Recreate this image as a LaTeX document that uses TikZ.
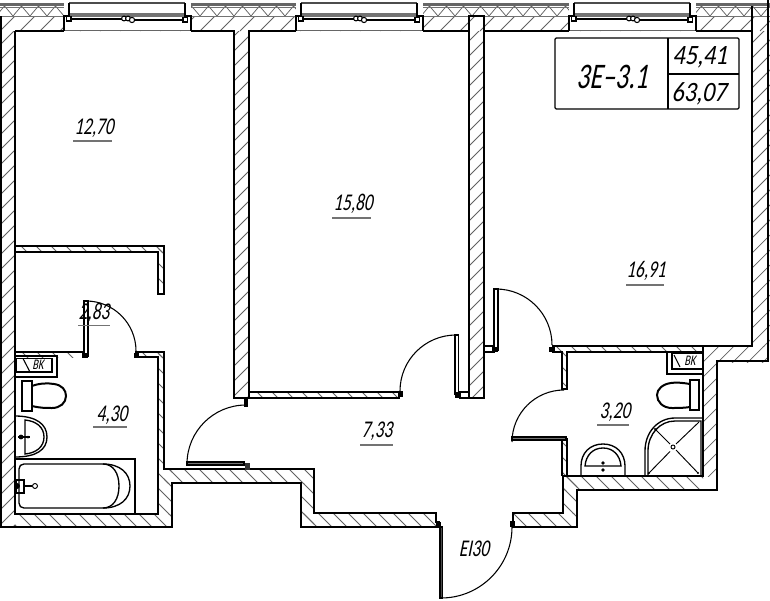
\documentclass[tikz,border=0pt]{standalone}
\usepackage{fontspec}
\newfontfamily\gost[FakeStretch=.72,FakeSlant=.2]{Carlito}
\newfontfamily\gostw[FakeStretch=.86,FakeSlant=.2]{Carlito}
\newcommand{\hatchR}[1]{\begin{scope}\clip #1;\foreach \i in {-600,-585,...,780}{\draw[hatchline] (\i,600)--(\i+600,0);}\end{scope}}
\newcommand{\hatchL}[1]{\begin{scope}\clip #1;\foreach \i in {-600,-585,...,780}{\draw[hatchline] (\i,0)--(\i+600,600);}\end{scope}}
\tikzset{
 hatchline/.style={draw=black!62,line width=.55pt},
 wall/.style={draw=black,line width=1.5pt,line cap=butt,line join=miter},
 leaf/.style={draw=black,line width=1.3pt},
 swing/.style={draw=black,line width=.8pt},
 fixture/.style={draw=black,line width=1pt},
 fixtureb/.style={draw=black,line width=1.5pt},
 ul/.style={draw=black!55,line width=.9pt},
 lab/.style={inner sep=0pt,font=\gost\fontsize{18}{18}\selectfont},
 labbig/.style={inner sep=0pt,font=\gostw\fontsize{21}{21}\selectfont},
 labhuge/.style={inner sep=0pt,font=\gost\fontsize{27}{27}\selectfont},
 labvk/.style={inner sep=0pt,font=\gost\fontsize{11}{11}\selectfont},
 table/.style={draw=black,line width=.9pt,rounded corners=1pt},
 win/.pic={
  \fill[white] (0,0) rectangle (127,31);
  \fill[black!55] (5,13) rectangle (121,17);
  \draw[black!70,line width=.8pt] (5,3)--(121,3);
  \draw[black!60,line width=.6pt] (0,30.5)--(127,30.5);
  \draw[wall] (0,30.5)--(0,16)--(5,16)--(5,3);
  \draw[wall] (127,30.5)--(127,16)--(121,16)--(121,3);
  \draw[black,line width=.9pt] (5,19)--(60,19) (68,20)--(121,20);
  \draw[black,line width=.8pt,fill=white] (2.5,16.5) rectangle (7,21);
  \draw[black,line width=.8pt,fill=white] (119,17.5) rectangle (123.5,22);
  \draw[black,line width=.8pt,fill=white] (60,18.5) circle (2.4);
  \draw[black,line width=.8pt,fill=white] (64,18.5) circle (2.4);
  \draw[black,line width=.8pt,fill=white] (68,20) circle (2.6);
 }
}
\begin{document}
\begin{tikzpicture}[x=.75pt,y=-.75pt]
\useasboundingbox (0,0) rectangle (770,600);
\fill[white] (0,0) rectangle (770,600);
% ---- top band
\begin{scope}\clip (0,16) rectangle (770,31);\foreach \i in {-40,-20,...,780}{\draw[hatchline] (\i,31)--(\i+25,6);}\end{scope}
\begin{scope}\clip (0,6) rectangle (770,16);
\draw[black!62,line width=.55pt] (-4,16) \foreach \i in {0,1,...,46}{--(\i*17+4.5,6)--(\i*17+13,16)};
\end{scope}
\draw[black!55,line width=.7pt] (0,16.2)--(770,16.2);
\draw[black!60,line width=1.8pt] (0,4.5)--(770,4.5);
\draw[black!55,line width=.6pt] (0,7)--(770,7);
\pic at (64,0) {win};
\pic at (296,0) {win};
\pic at (569,0) {win};
% ---- wall hatching
\hatchR{(0,31) rectangle (15,527)}
\hatchR{(234,31) rectangle (248,398)}
\hatchR{(469,31) rectangle (484,398)}
\hatchR{(752,31) rectangle (770,346)}
\hatchR{(703,346) rectangle (717,476)}
\hatchR{(717,346) rectangle (767,362)}
\hatchL{(15,514) rectangle (172,527)}
\hatchL{(158,470) rectangle (172,514)}
\hatchL{(164,469) rectangle (314,483)}
\hatchL{(301,483) rectangle (314,527)}
\hatchL{(301,513) rectangle (437,527)}
\hatchL{(513,513) rectangle (577,527)}
\hatchL{(563,476) rectangle (577,513)}
\hatchL{(563,476) rectangle (703,490)}
\hatchL{(15,245) rectangle (164,252)}
\hatchL{(158,245) rectangle (164,294)}
\hatchL{(158,352) rectangle (164,470)}
\hatchL{(15,352) rectangle (84,357)}
\hatchL{(135,352) rectangle (164,357)}
\hatchL{(249,392) rectangle (400,398)}
\hatchL{(562,352) rectangle (567,389)}
\hatchL{(562,438) rectangle (567,476)}
\hatchL{(552,347) rectangle (703,352)}
% ---- outer and main wall lines
\draw[wall] (1,16)--(1,527)--(172,527)--(172,483)--(301,483)--(301,527)--(440,527);
\draw[wall] (15,30.5)--(15,514)--(158,514)--(158,357)--(136,357);
\draw[wall] (15,30.5)--(64,30.5);
\draw[wall] (191,30.5)--(234,30.5)--(234,398)--(249,398)--(249,30.5)--(296,30.5);
\draw[wall] (423,30.5)--(468,30.5) (484,30.5)--(569,30.5) (696,30.5)--(752,30.5);
\draw[wall] (469,16)--(469,398)--(484,398)--(484,16)--cycle;
\draw[wall] (752,6)--(752,346)--(552,346);
\draw[wall] (768,0)--(768,361)--(717,361)--(717,490)--(577,490)--(577,527)--(513,527)--(513,513)--(563,513)--(563,476)--(703,476)--(703,346);
% partitions
\draw[wall] (15,245.5)--(164,245.5)--(164,294)--(158,294)--(158,252)--(15,252);
\draw[wall] (15,352)--(84,352);
\draw[wall] (135,352)--(164,352)--(164,469)--(245,469);
\draw[wall] (250,469)--(314,469)--(314,513)--(436,513)--(436,522)--(440,522);
\draw[wall] (249,392)--(400,392) (249,398)--(400,398);
\draw[wall] (459,392)--(469,392);
\draw[wall] (459,398)--(469,398);
\draw[wall] (484,346)--(495,346) (484,352)--(495,352);
\draw[wall] (552,352)--(562,352)--(562,389)--(567,389)--(567,352)--(703,352);
\draw[wall] (562,438)--(562,476) (567,438)--(567,476);
\fill[black] (244,398) rectangle (248,407);
\fill[black!80] (245,463) rectangle (250,470);
% ---- doors
\draw[leaf,fill=white] (84,301) rectangle (88,356);
\fill[black] (82,353) rectangle (88,358);
\fill[black] (134,353) rectangle (139,358);
\draw[swing] (86,301) arc[start angle=-90,end angle=0,radius=50];
\draw[swing] (246,405) arc[start angle=-90,end angle=-180,radius=59];
\draw[leaf,fill=black!55] (187,462) rectangle (244,465);
\draw[leaf,fill=white] (455,335) rectangle (458.5,394);
\fill[black] (455,392) rectangle (461,398);
\fill[black] (398,391) rectangle (403,397);
\draw[swing] (456,335) arc[start angle=-90,end angle=-180,radius=56];
\draw[leaf,fill=white] (494,289) rectangle (498,350);
\fill[black] (492,347) rectangle (498,352);
\fill[black] (549,347) rectangle (555,352);
\draw[swing] (496,289) arc[start angle=-90,end angle=0,radius=56];
\draw[swing] (564,390) arc[start angle=-90,end angle=-180,radius=52];
\draw[leaf,fill=black!55] (512,437) rectangle (566,440);
\draw[leaf,fill=black!70] (440,527) rectangle (442.5,598);
\fill[black] (436,522) rectangle (441,528);
\fill[black] (510,521) rectangle (515,527);
\draw[swing] (441,598) arc[start angle=90,end angle=0,radius=71];
% ---- VBK boxes
\draw[wall] (15,355.5)--(57,355.5)--(57,377)--(15,377);
\draw[fixture] (16,358.5) rectangle (52,372);
\draw[black,line width=.8pt] (23,358.5)--(30,372);
\node[labvk] (vkl) at (38,365) {BK};
\draw[wall] (667,352)--(667,374)--(703,374);
\draw[fixture] (672,353) rectangle (703,369);
\draw[black,line width=.8pt] (674,355)--(680,367);
\node[labvk] (vkr) at (690,361) {BK};
% ---- left toilet
\draw[fixtureb,fill=white] (22,381) rectangle (32,411);
\draw[fixtureb] (32,386) .. controls (40,383) and (48,383) .. (54,384) .. controls (62,385) and (66,390) .. (66,396) .. controls (66,403) and (60,408) .. (52,408) .. controls (46,408) and (40,408) .. (32,406);
% left basin
\draw[fixture] (15,416) .. controls (36,416) and (47,424) .. (47,437) .. controls (47,450) and (36,457) .. (15,457);
\draw[fixture] (25,420) .. controls (36,421) and (44,427) .. (44,437) .. controls (44,447) and (36,453) .. (25,454)--cycle;
\draw[fixture] (18,437)--(30,437);
\fill[black] (21,437) circle (2.4) (28,437) circle (1.5);
% bath
\draw[fixture] (15,459)--(135,459)--(135,514);
\draw[fixture] (103,464)--(24,464) .. controls (21,464) and (19,466) .. (19,469)--(19,503) .. controls (19,506) and (21,508) .. (24,508)--(103,508);
\draw[fixture] (103,464) .. controls (113,464) and (119,473) .. (119,486) .. controls (119,499) and (113,508) .. (103,508);
\draw[fixture] (103,464) .. controls (120,464) and (130,473) .. (130,486) .. controls (130,499) and (120,508) .. (103,508);
\draw[fixture] (16,480) rectangle (24,493);
\draw[fixture] (24,486)--(32,486);
\draw[black,line width=.7pt,fill=white] (35,486) circle (2.5);
\fill[black] (17,486) circle (3);
% right toilet
\draw[fixtureb,fill=white] (690,380) rectangle (699,410);
\draw[fixtureb] (690,384) .. controls (684,383) and (676,382) .. (671,383) .. controls (663,384) and (657,389) .. (657,395) .. controls (657,402) and (663,408) .. (672,408) .. controls (678,408) and (684,408) .. (690,407);
% shower
\draw[fixture] (645,476)--(645,451) .. controls (645,432) and (658,418) .. (675,418)--(703,418);
\draw[fixture] (648,476)--(648,451) .. controls (648,434) and (660,421) .. (675,421)--(701,421)--(701,476);
\draw[black,line width=.7pt] (648,474)--(670,451.5) (676,444)--(699,422) (655,429)--(670,444) (676,450)--(698,473);
\draw[black,line width=.7pt,fill=white] (673,447) circle (2);
\fill[black] (655,429) circle (1.2) (698,473) circle (1.2) (649,473) circle (1.2);
% right basin
\draw[fixture] (581,476)--(581,466) .. controls (581,453) and (590,444) .. (603,444) .. controls (616,444) and (625,453) .. (625,466)--(625,476);
\draw[fixture] (585,466) .. controls (586,455) and (593,448) .. (603,448) .. controls (613,448) and (620,455) .. (621,466)--cycle;
\fill[black] (603,463) circle (1.8) (603,470) circle (1.8);
% ---- table
\draw[table] (555,38) rectangle (739,109);
\draw[table] (668,38)--(668,109) (668,74)--(739,74);
\node[labhuge] (code) at (612,77) {3E–3.1};
\node[labbig] (tota) at (700,57) {45,41};
\node[labbig] (totb) at (699,94) {63,07};
% ---- labels
\node[lab] (r1) at (94,128) {12,70}; \draw[ul] (73,141)--(112,141);
\node[lab] (r2) at (353,204) {15,80}; \draw[ul] (332,218)--(371,218);
\node[lab] (r3) at (646,271) {16,91}; \draw[ul] (626,285)--(664,285);
\node[lab] (r4) at (94,313) {2,83}; \draw[ul] (78,325.5)--(110,325.5);
\node[lab] (r5) at (112,415) {4,30}; \draw[ul] (93,427)--(127,427);
\node[lab] (r6) at (377,431) {7,33}; \draw[ul] (360,445)--(393,445);
\node[lab] (r7) at (615,412) {3,20}; \draw[ul] (597,425)--(629,425);
\node[lab] (r8) at (474,549) {EI30};
\end{tikzpicture}
\end{document}
